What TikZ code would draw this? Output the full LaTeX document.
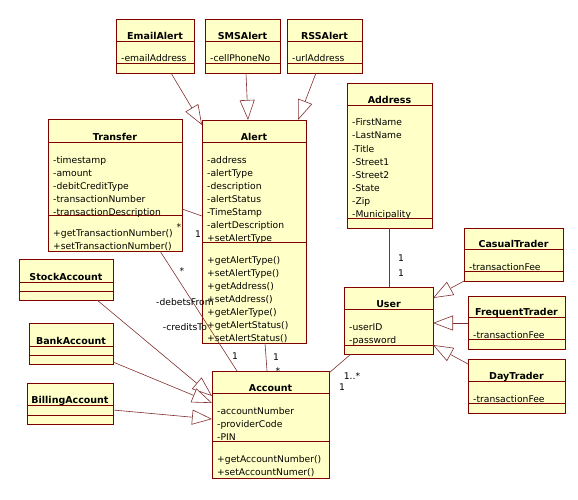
\documentclass[tikz,border=0pt]{standalone}
\usepackage{fontspec}
\setmainfont{DejaVu Sans}
\usetikzlibrary{calc}
\usetikzlibrary{arrows.meta}

\definecolor{umlfill}{RGB}{255,255,200}
\definecolor{umlborder}{RGB}{128,0,0}
\definecolor{umlline}{RGB}{128,48,48}

% box of a class: name, top left, width, height, title line, attribute line, title
\newcommand{\umlclass}[7]{
  \node[classbox, minimum width=#3pt, minimum height=#4pt, anchor=north west] (#1) at (#2) {};
  \draw[classsep] ($(#1.north west)+(0,#5)$) -- ++(#3,0);
  \draw[classsep] ($(#1.north west)+(0,#6)$) -- ++(#3,0);
  \node[classtitle, anchor=base] (#1-name) at ($(#1.north)+(0,#5-1.5)$) {#7};
}
% lines of a compartment: class, prefix, top of compartment, lines
\newcommand{\umllines}[4]{
  \foreach \t [count=\i] in {#4} {
    \node[classtext, anchor=base west] (#1-#2\i) at ($(#1.north west)+(5,#3+8+13*\i)$) {\t};
  }
}

\begin{document}
\begin{tikzpicture}[x=1pt, y=-1pt,
  classbox/.style={draw=umlborder, fill=umlfill, line width=0.7pt, inner sep=0pt, outer sep=0pt},
  classsep/.style={draw=umlborder, line width=0.7pt},
  classtitle/.style={font=\bfseries\fontsize{9.5}{11}\selectfont, inner sep=0pt},
  classtext/.style={font=\fontsize{9.2}{13}\selectfont, inner sep=0pt},
  assoc/.style={draw=umlline, line width=0.6pt},
  inherit/.style={assoc, -{Triangle[open, length=20pt, width=15pt, fill=white]}},
  mult/.style={font=\fontsize{9.2}{11}\selectfont, inner sep=0pt}]
\useasboundingbox (0,0) rectangle (578,500);

% alerts
\umlclass{EmailAlert}{116,19}{78}{54}{22}{44}{EmailAlert}
\umllines{EmailAlert}{a}{22}{-emailAddress}
\umlclass{SMSAlert}{205,19}{75}{54}{22}{44}{SMSAlert}
\umllines{SMSAlert}{a}{22}{-cellPhoneNo}
\umlclass{RSSAlert}{287,19}{75}{54}{22}{44}{RSSAlert}
\umllines{RSSAlert}{a}{22}{-urlAddress}

\umlclass{Transfer}{48,119}{134}{132}{23}{96}{Transfer}
\umllines{Transfer}{a}{23}{-timestamp,-amount,-debitCreditType,-transactionNumber,-transactionDescription}
\umllines{Transfer}{o}{96}{+getTransactionNumber(),+setTransactionNumber()}

\umlclass{Alert}{202,120}{104}{223}{22}{122}{Alert}
\umllines{Alert}{a}{22}{-address,-alertType,-description,-alertStatus,-TimeStamp,-alertDescription,+setAlertType}
\umllines{Alert}{o}{122}{+getAlertType(),+setAlertType(),+getAddress(),+setAddress(),+getAlerType(),+getAlertStatus(),+setAlertStatus()}

\umlclass{Address}{347,83}{85}{145}{22}{135}{Address}
\umllines{Address}{a}{22}{-FirstName,-LastName,-Title,-Street1,-Street2,-State,-Zip,-Municipality}

% users
\umlclass{User}{344,287}{89}{67}{22}{58}{User}
\umllines{User}{a}{22}{-userID,-password}
\umlclass{CasualTrader}{464,228}{99}{53}{21}{43}{CasualTrader}
\umllines{CasualTrader}{a}{21}{-transactionFee}
\umlclass{FrequentTrader}{468,296}{97}{53}{21}{43}{FrequentTrader}
\umllines{FrequentTrader}{a}{21}{-transactionFee}
\umlclass{DayTrader}{468,359}{97}{54}{22}{44}{DayTrader}
\umllines{DayTrader}{a}{22}{-transactionFee}

% accounts
\umlclass{Account}{212,371}{117}{107}{22}{70}{Account}
\umllines{Account}{a}{22}{-accountNumber,-providerCode,-PIN}
\umllines{Account}{o}{70}{+getAccountNumber(),+setAccountNumer()}
\umlclass{StockAccount}{19,259}{94}{41}{23}{32}{StockAccount}
\umlclass{BankAccount}{29,323}{84}{41}{23}{32}{BankAccount}
\umlclass{BillingAccount}{27,383}{86}{41}{22}{32}{BillingAccount}

% generalizations
\draw[inherit] ($(EmailAlert.south west)+(55,0)$) -- ($(Alert.north west)+(0,5)$);
\draw[inherit] ($(SMSAlert.south west)+(41,0)$) -- ($(Alert.north west)+(46,0)$);
\draw[inherit] ($(RSSAlert.south west)+(29,0)$) -- ($(Alert.north east)+(-8,0)$);
\draw[inherit] (CasualTrader.south west) -- ($(User.north east)+(0,11)$);
\draw[inherit] ($(FrequentTrader.north west)+(0,27)$) -- ($(User.north east)+(0,36)$);
\draw[inherit] ($(DayTrader.north west)+(0,5)$) -- ($(User.north east)+(0,58)$);
\draw[inherit] ($(StockAccount.south west)+(78,0)$) -- ($(Account.north west)+(0,25)$);
\draw[inherit] ($(BankAccount.south east)+(0,-2)$) -- ($(Account.north west)+(0,32)$);
\draw[inherit] ($(BillingAccount.north east)+(0,27)$) -- ($(Account.north west)+(0,48)$);

% associations
\draw[assoc] ($(Transfer.north east)+(0,90)$) -- ($(Alert.north west)+(0,96)$);
\draw[assoc] ($(Transfer.south west)+(112,0)$) -- ($(Account.north west)+(25,0)$);
\draw[assoc] ($(Alert.south west)+(63,0)$) -- ($(Account.north west)+(55,0)$);
\draw[assoc] ($(Address.south west)+(42,0)$) -- ($(User.north west)+(45,0)$);
\draw[assoc] ($(User.south west)+(7,0)$) -- ($(Account.north east)+(0,2)$);

\node[mult] (m1) at (179,227) {*};
\node[mult] (m2) at (198,234) {1};
\node[mult] (m3) at (182,271) {*};
\node[mult] (r1) at (185,302) {-debetsFrom};
\node[mult] (r2) at (185,327) {-creditsTo};
\node[mult] (m4) at (235,356) {1};
\node[mult] (m5) at (276,357) {1};
\node[mult] (m6) at (278,371) {*};
\node[mult] (m7) at (401,258) {1};
\node[mult] (m8) at (401,273) {1};
\node[mult] (m9) at (352,376) {1..*};
\node[mult] (m10) at (342,387) {1};
\end{tikzpicture}
\end{document}
